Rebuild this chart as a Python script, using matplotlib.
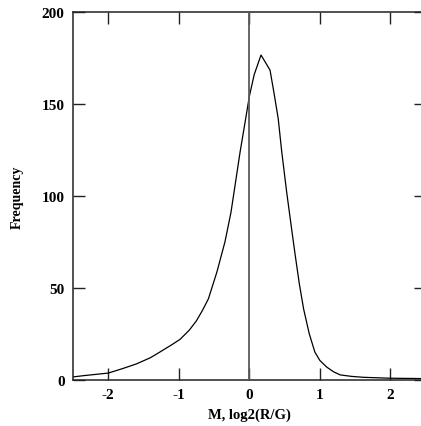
import matplotlib
matplotlib.use("Agg")
import matplotlib.pyplot as plt

# M values (log2 ratio) and the smoothed frequency
m_values = [-2.5, -2.35, -2.0, -1.8, -1.6, -1.4, -1.27, -1.1, -0.98, -0.85,
            -0.75, -0.66, -0.58, -0.46, -0.345, -0.26, -0.189, -0.13, -0.06, 0.0,
            0.07, 0.166, 0.294, 0.35, 0.41, 0.46, 0.53, 0.6, 0.65, 0.71,
            0.77, 0.85, 0.93, 1.0, 1.1, 1.2, 1.29, 1.45, 1.62, 2.0, 2.5]
frequency = [1.5, 2.2, 3.6, 6, 8.6, 12, 15, 19, 22, 27,
             32, 38, 44, 58.5, 75, 91, 109, 124, 140, 154,
             166, 176.6, 168.4, 156, 142, 124, 102, 82, 68, 52,
             38.5, 25, 15, 10.5, 6.8, 4.2, 2.6, 1.8, 1.3, 0.8, 0.6]

x_ticks = [-2, -1, 0, 1, 2]
y_ticks = [0, 50, 100, 150, 200]

plt.rcParams['font.family'] = ['Liberation Serif', 'DejaVu Serif']
plt.rcParams['font.weight'] = 'bold'
plt.rcParams['axes.unicode_minus'] = False

fig = plt.figure(figsize=(4.21, 4.27), dpi=100)
ax = fig.add_axes([73 / 421, 46.3 / 427, (425.6 - 73) / 421, (414 - 46.3) / 427])

ax.axvline(0, color='#5a5a5a', linewidth=1.3, zorder=3)
ax.plot(m_values, frequency, color='black', linewidth=0.9, zorder=2)

ax.set_xlim(-2.5, 2.5)
ax.set_ylim(0, 200)
ax.set_xticks(x_ticks)
ax.set_yticks(y_ticks)
ax.tick_params(direction='in', length=8.6, width=1.0, top=True, right=True,
               labelsize=11, color='#222222')
ax.tick_params(axis='x', pad=6)
ax.tick_params(axis='y', pad=6)
for lab in ax.get_xticklabels() + ax.get_yticklabels():
    lab.set_fontweight('bold')
for sp in ax.spines.values():
    sp.set_linewidth(1.1)
    sp.set_color('#222222')

ax.set_xlabel('M, log2(R/G)', fontsize=10.5, fontweight='bold', labelpad=5)
ax.set_ylabel('Frequency', fontsize=10, fontweight='bold', labelpad=13)

fig.savefig('out.png', dpi=100)
